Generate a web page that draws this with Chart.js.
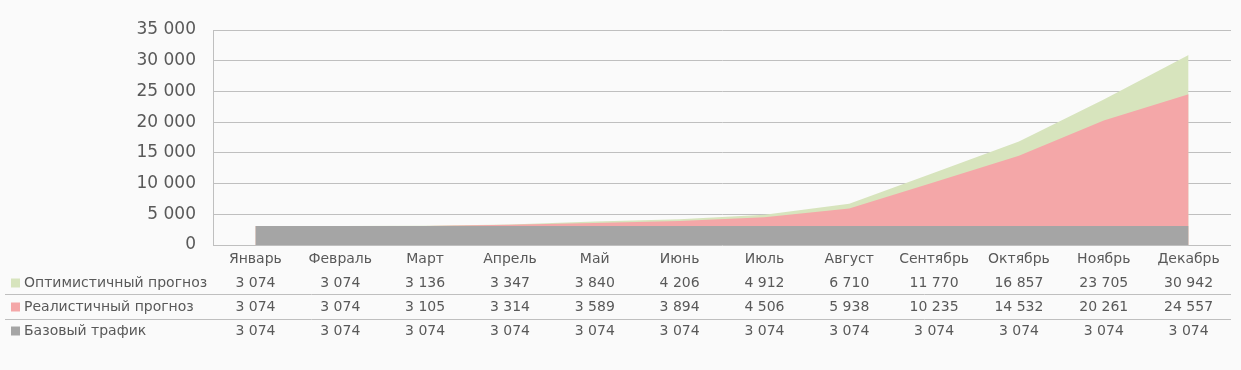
<!DOCTYPE html>
<html>
<head>
<meta charset="utf-8">
<script src="https://cdn.jsdelivr.net/npm/chart.js@4"></script>
<style>
  html, body { margin: 0; padding: 0; background: #fafafa; }
  #wrap { width: 1241px; height: 370px; }
</style>
</head>
<body>
<div id="wrap"><canvas id="c" width="1241" height="370"></canvas></div>
<script>
const categories = ['Январь','Февраль','Март','Апрель','Май','Июнь','Июль','Август','Сентябрь','Октябрь','Ноябрь','Декабрь'];
const optimistic = [3074,3074,3136,3347,3840,4206,4912,6710,11770,16857,23705,30942];
const realistic  = [3074,3074,3105,3314,3589,3894,4506,5938,10235,14532,20261,24557];
const baseTraffic = [3074,3074,3074,3074,3074,3074,3074,3074,3074,3074,3074,3074];
const seriesNames = ['Оптимистичный прогноз','Реалистичный прогноз','Базовый трафик'];
const yTicks = [0,5000,10000,15000,20000,25000,30000,35000];

const colors = { opt: '#d7e4bd', real: '#f4a7a8', base: '#a5a5a5' };
const textColor = '#595959';
const gridColor = '#bfbfbf';
const FONT = '"DejaVu Sans", Verdana, sans-serif';

function fmt(v) {
  return String(v).replace(/\B(?=(\d{3})+(?!\d))/g, ' ');
}

const tablePlugin = {
  id: 'dataTable',
  afterDraw(chart) {
    const ctx = chart.ctx;
    const x = chart.scales.x;
    const area = chart.chartArea;
    ctx.save();
    ctx.fillStyle = textColor;
    ctx.textAlign = 'center';
    ctx.textBaseline = 'middle';
    ctx.font = '14px ' + FONT;
    categories.forEach((c, i) => {
      ctx.fillText(c, x.getPixelForValue(i), 259);
    });
    const rows = [
      { name: seriesNames[0], data: optimistic, color: colors.opt, y: 283 },
      { name: seriesNames[1], data: realistic, color: colors.real, y: 307 },
      { name: seriesNames[2], data: baseTraffic, color: colors.base, y: 331 }
    ];
    rows.forEach(r => {
      ctx.fillStyle = r.color;
      ctx.fillRect(11, r.y - 4.5, 9, 9);
      ctx.fillStyle = textColor;
      ctx.textAlign = 'left';
      ctx.fillText(r.name, 24, r.y);
      ctx.textAlign = 'center';
      r.data.forEach((v, i) => ctx.fillText(fmt(v), x.getPixelForValue(i), r.y));
    });
    ctx.strokeStyle = gridColor;
    ctx.lineWidth = 1;
    [294.5, 319.5].forEach(yy => {
      ctx.beginPath();
      ctx.moveTo(5, yy);
      ctx.lineTo(area.right, yy);
      ctx.stroke();
    });
    ctx.restore();
  }
};

const areaDs = (label, data, color) => ({
  label, data,
  backgroundColor: color,
  borderColor: color,
  borderWidth: 0,
  pointRadius: 0,
  pointHoverRadius: 0,
  fill: 'origin',
  tension: 0
});

new Chart(document.getElementById('c'), {
  type: 'line',
  data: {
    labels: categories,
    datasets: [
      areaDs(seriesNames[2], baseTraffic, colors.base),
      areaDs(seriesNames[1], realistic, colors.real),
      areaDs(seriesNames[0], optimistic, colors.opt)
    ]
  },
  options: {
    responsive: false,
    animation: false,
    devicePixelRatio: 1,
    layout: { padding: { top: 30, right: 10, left: 0, bottom: 0 } },
    plugins: { legend: { display: false }, tooltip: { enabled: false } },
    scales: {
      x: {
        type: 'category',
        offset: true,
        grid: { display: false, drawTicks: false },
        border: { display: false },
        ticks: { display: false },
        afterFit(s) { s.height = 125; }
      },
      y: {
        min: 0, max: 35000,
        afterBuildTicks(s) { s.ticks = yTicks.map(v => ({ value: v })); },
        grid: { color: gridColor, lineWidth: 1, drawTicks: false },
        border: { display: true, color: gridColor, width: 1 },
        ticks: {
          padding: 17,
          color: textColor,
          font: { family: FONT, size: 17 },
          callback: v => fmt(v)
        },
        afterFit(s) { s.width = 213; }
      }
    }
  },
  plugins: [tablePlugin]
});
</script>
</body>
</html>
